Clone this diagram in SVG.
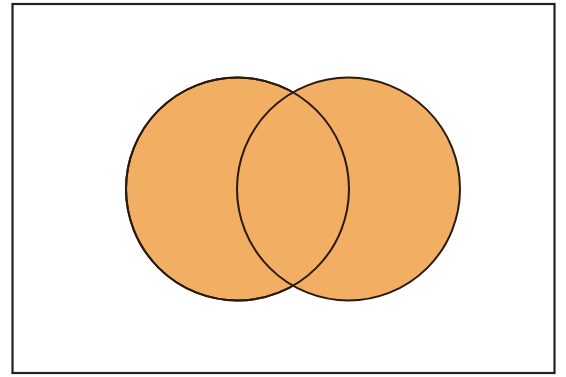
<svg xmlns="http://www.w3.org/2000/svg" width="566" height="377" viewBox="0 0 566 377">
<style>
.set{fill:#F2AE63;stroke:#2a1a0e;stroke-width:2}
</style>
<rect x="0" y="0" width="566" height="377" fill="#fff"/>
<rect x="12.5" y="4" width="542" height="369" fill="none" stroke="#222" stroke-width="2.2"/>
<g id="setA"><circle class="set" cx="237.5" cy="189" r="111.5"/></g>
<g id="setB"><circle class="set" cx="348.5" cy="189" r="111.5"/></g>
<g id="outlines"><circle cx="237.5" cy="189" r="111.5" fill="none" stroke="#2a1a0e" stroke-width="2"/></g>
</svg>
